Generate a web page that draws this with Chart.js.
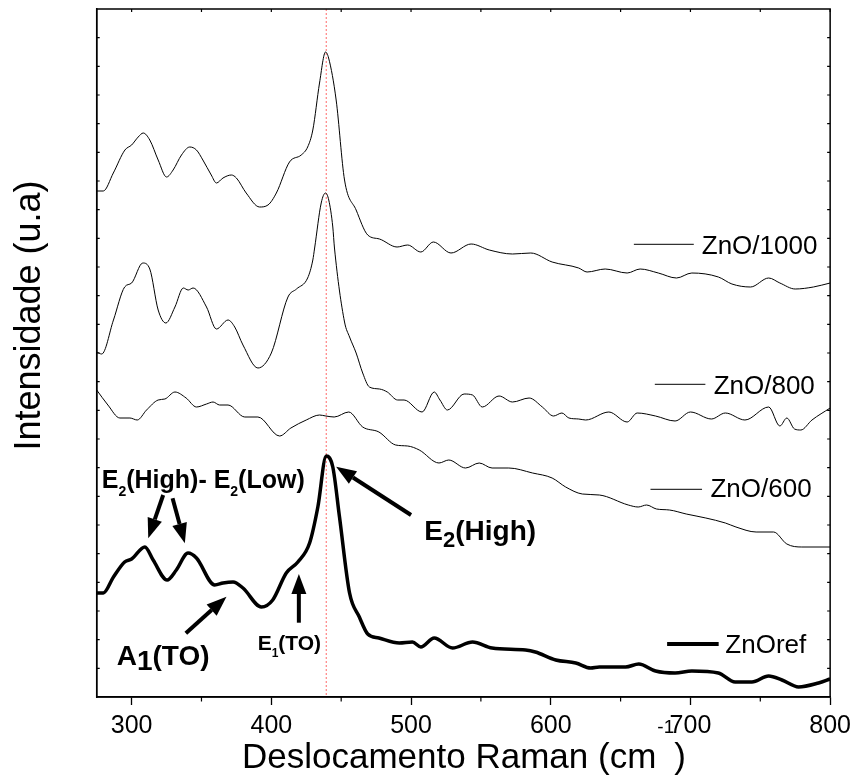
<!DOCTYPE html>
<html><head><meta charset="utf-8">
<script src="https://cdn.jsdelivr.net/npm/chart.js@4.4.1/dist/chart.umd.min.js"></script>
<style>html,body{margin:0;padding:0;background:#fff;} #wrap{width:857px;height:775px;}</style>
</head><body><div id="wrap"><canvas id="c" width="857" height="775"></canvas></div>
<script>
// ---------- data (x: Raman shift cm-1, y: intensity a.u.) ----------
const xTickLabels = [300, 400, 500, 600, 700, 800];
const seriesNames = ['ZnO/1000', 'ZnO/800', 'ZnO/600', 'ZnOref'];
const e2PeakPosition = 439.3;

const zno1000 = [[275,506],[279.7,506],[286.9,524],[295.2,547],[300,552],[304.7,560],[308.3,564],[313,557],[319,537],[325,520],[329.7,527],[335.7,542],[341.6,550],[346.4,547],[351,537],[357,522],[360.7,514],[365.4,519],[371.4,522],[375,519],[382,504],[391.6,490],[397.6,492],[403.6,504],[413,535],[421.4,542],[426,550],[429.7,567],[434.5,614],[438.8,645],[441,639],[446.4,597],[452.4,517],[460.7,487],[469,462],[477.4,458],[490,450],[497.6,452],[507,445],[516,455],[528.6,444],[543,453],[556,447],[572.6,443],[585.7,444],[601,435],[620,429],[626,425],[639,428],[654.7,424],[664,428],[677,424],[690,419],[701,424],[720,420],[729.7,413],[743,410],[756,419],[764,414],[775,408],[788,410],[800,414]];

const zno800 = [[275,345],[278.6,343],[287,377],[295,410],[300,414],[308,434],[313,428],[319,387],[324.5,374],[331,390],[337,409],[340.5,407],[344,409],[353.6,390],[360.7,368],[369,377],[373.8,370],[379.7,352],[390.4,329],[400,344],[411.9,400],[418,408],[426,419],[429.7,437],[431,449],[435.7,494],[438.8,504],[441.1,497],[444,470],[445.2,449],[452.4,375],[456,360],[460.7,344],[465.4,324],[470.2,310],[477.4,308],[483,305],[490.4,297],[495,297],[507.9,285],[516.6,305],[520.7,297],[526,287],[538,303],[544,302],[551,290],[563,301],[572.6,295],[584.5,299],[594,290],[602,281],[608,284],[613,279],[620,278],[625,277],[641.6,285],[654.7,275],[661.9,284],[675,281],[689,276],[700,285],[715,278],[725,284],[739,277],[756,290],[764,271],[769,279],[774.5,268],[779,267],[787,277],[800,289]];

const zno600 = [[275,307],[283,292],[291.6,279],[298.8,279],[304,277],[310.7,287],[319,297],[323.8,298],[331,305],[339,299],[346.4,290],[353.6,293],[358.3,295],[363,292],[369,292],[381,280],[390.4,280],[405.9,261],[414,269],[425,277],[434.5,282],[439,281],[445,280],[455.4,285],[465.4,270],[477,265],[489,252],[497.6,251],[505.9,247],[520,234],[527,237],[539,229],[548.8,234],[558,229],[570,229],[587,224],[601,219],[610.7,210],[622.6,203],[634.8,202],[655.5,192],[662.6,190],[668.6,192],[675.7,188],[685,187],[697,183],[711,179],[725,174],[732.6,170],[747,165],[759.5,165],[769,153],[779.7,150],[800,150]];

const znoRef = [[275,104],[279.7,104],[287,120],[295,135],[300,138],[309.5,150],[315.4,137],[325.4,117],[332,127],[340.4,144],[346.4,139],[359.5,112],[365.4,114],[372.6,115],[379.7,109],[392.9,90],[401,97],[410.7,124],[419,135],[427.4,154],[433.3,190],[439.3,241],[444,230],[448.8,180],[456,104],[463,80],[469,63],[477,59],[491.6,54],[501,55],[507,50],[516.6,59],[529.7,49],[544,55],[558,49],[582,47],[589,45],[603.6,37],[617.9,34],[628.6,29],[634.8,30],[653.6,30],[663,33],[675,26],[689,24],[701,26],[720,24],[732,15],[744,15],[756,21],[765.5,17],[777.4,10],[791.7,14],[800,18]];

const xTitle = ['Deslocamento Raman (cm', '-1', ')'];
const yTitle = 'Intensidade (u.a)';

// ---------- styling / placement (data coordinates) ----------
const FONT = '"Liberation Sans", Arial, Helvetica, sans-serif';
const seriesData = [zno1000, zno800, zno600, znoRef];
const seriesWidths = [1, 1, 1, 3.5];

const legendItems = [
  {x1:659.5, x2:702.4, y:452.7, tx:708.1, ty:443,  w:1},
  {x1:674.5, x2:710.7, y:312.7, tx:716.6, ty:303.5, w:1},
  {x1:671.4, x2:708.3, y:207.7, tx:714.3, ty:200,  w:1},
  {x1:683.3, x2:720.2, y:53,    tx:725,   ty:44.3, w:4}
];

const annotations = [
  {x:278.6, y:209, parts:[['E',25,0],['2',14,8],['(High)- E',25,0],['2',14,8],['(Low)',25,0]]},
  {x:289.3, y:32,  parts:[['A',28,0],['1',28,5],['(TO)',28,0]]},
  {x:390.2, y:47,  parts:[['E',21,0],['1',12,7],['(TO)',21,0]]},
  {x:509.5, y:157, parts:[['E',28,0],['2',22,7],['(High)',28,0]]}
];
const arrows = [
  [322.6,202,311.9,158.7],
  [329.3,198.7,338.1,153.7],
  [338.8,63.7,367.9,100.3],
  [419.7,74.3,419.7,123],
  [500,182,446.4,230.3]
];

function drawArrow(ctx, x1, y1, x2, y2, w, headLen, headW) {
  const ang = Math.atan2(y2 - y1, x2 - x1);
  const bx = x2 - headLen * Math.cos(ang), by = y2 - headLen * Math.sin(ang);
  ctx.lineWidth = w;
  ctx.beginPath(); ctx.moveTo(x1, y1); ctx.lineTo(bx, by); ctx.stroke();
  ctx.beginPath(); ctx.moveTo(x2, y2);
  ctx.lineTo(bx + headW * Math.sin(ang), by - headW * Math.cos(ang));
  ctx.lineTo(bx - headW * Math.sin(ang), by + headW * Math.cos(ang));
  ctx.closePath(); ctx.fill();
}

const decor = {
  id: 'decor',
  beforeDatasetsDraw(chart) {
    const {ctx, chartArea: a, scales: {x}} = chart;
    const px = x.getPixelForValue(e2PeakPosition);
    ctx.save();
    ctx.strokeStyle = '#ff6a6a'; ctx.lineWidth = 1; ctx.setLineDash([2, 2]);
    ctx.beginPath(); ctx.moveTo(px, a.top); ctx.lineTo(px, a.bottom); ctx.stroke();
    ctx.restore();
  },
  afterDraw(chart) {
    const {ctx, chartArea: a, scales: {x, y}} = chart;
    ctx.save();
    ctx.strokeStyle = '#000'; ctx.fillStyle = '#000';
    // frame
    ctx.lineWidth = 1.5;
    ctx.strokeRect(a.left, a.top, a.right - a.left, a.bottom - a.top);
    // ticks
    ctx.lineWidth = 1.2;
    ctx.beginPath();
    for (let v = 300; v <= 800; v += 50) {
      const p = x.getPixelForValue(v);
      ctx.moveTo(p, a.top); ctx.lineTo(p, a.top + 3);
      if (v % 100 !== 0) { ctx.moveTo(p, a.bottom); ctx.lineTo(p, a.bottom + 4.5); }
    }
    for (let i = 1; i < 24; i++) {
      const p = y.getPixelForValue(i * (y.max - y.min) / 24 + y.min);
      ctx.moveTo(a.left, p); ctx.lineTo(a.left + 3, p);
      ctx.moveTo(a.right, p); ctx.lineTo(a.right - 3, p);
    }
    ctx.stroke();
    // legend labels
    ctx.textAlign = 'left'; ctx.textBaseline = 'alphabetic';
    ctx.font = '26px ' + FONT;
    legendItems.forEach((it, i) => {
      ctx.lineWidth = it.w;
      const yy = y.getPixelForValue(it.y);
      ctx.beginPath(); ctx.moveTo(x.getPixelForValue(it.x1), yy); ctx.lineTo(x.getPixelForValue(it.x2), yy); ctx.stroke();
      ctx.fillText(seriesNames[i], x.getPixelForValue(it.tx), y.getPixelForValue(it.ty));
    });
    // annotations
    annotations.forEach(an => {
      let cx = x.getPixelForValue(an.x);
      const by = y.getPixelForValue(an.y);
      an.parts.forEach(([t, s, dy]) => {
        ctx.font = 'bold ' + s + 'px ' + FONT;
        ctx.fillText(t, cx, by + dy);
        cx += ctx.measureText(t).width;
      });
    });
    arrows.forEach(([x1, y1, x2, y2]) => {
      drawArrow(ctx, x.getPixelForValue(x1), y.getPixelForValue(y1), x.getPixelForValue(x2), y.getPixelForValue(y2), 4, 20, 7.5);
    });
    // x title with superscript
    const fMain = '35px ' + FONT, fSup = '19px ' + FONT;
    ctx.font = fMain; const w0 = ctx.measureText(xTitle[0]).width, w2 = ctx.measureText(xTitle[2]).width;
    ctx.font = fSup; const w1 = ctx.measureText(xTitle[1]).width;
    let sx = (a.left + a.right) / 2 - (w0 + w1 + w2) / 2;
    const base = 768;
    ctx.font = fMain; ctx.fillText(xTitle[0], sx, base); sx += w0 + 1;
    ctx.font = fSup; ctx.fillText(xTitle[1], sx, base - 35); sx += w1;
    ctx.font = fMain; ctx.fillText(xTitle[2], sx, base);
    // y title
    ctx.translate(40, 315.5); ctx.rotate(-Math.PI / 2);
    ctx.textAlign = 'center'; ctx.font = '36px ' + FONT;
    ctx.fillText(yTitle, 0, 0);
    ctx.restore();
  }
};

new Chart(document.getElementById('c'), {
  type: 'line',
  data: {
    datasets: seriesData.map((d, i) => ({
      label: seriesNames[i],
      data: d.map(([xv, yv]) => ({x: xv, y: yv})),
      borderColor: '#000', borderWidth: seriesWidths[i],
      pointRadius: 0, fill: false, cubicInterpolationMode: 'monotone'
    }))
  },
  options: {
    responsive: false, animation: false, devicePixelRatio: 1,
    layout: {padding: {top: 9, right: 25.3, left: 0, bottom: 0}},
    plugins: {legend: {display: false}, tooltip: {enabled: false}, title: {display: false}},
    scales: {
      x: {
        type: 'linear', min: 275, max: 800,
        afterBuildTicks: s => { s.ticks = xTickLabels.map(v => ({value: v})); },
        afterFit: s => { s.height = 78; },
        grid: {display: true, drawOnChartArea: false, drawTicks: true, tickLength: 8, tickColor: '#000', tickWidth: 1.3},
        border: {display: true, color: '#000', width: 1.5},
        ticks: {color: '#000', font: {family: FONT, size: 25}, padding: 6, maxRotation: 0, autoSkip: false}
      },
      y: {
        min: 0, max: 688,
        afterFit: s => { s.width = 96.7; },
        ticks: {display: false}, grid: {display: false},
        border: {display: true, color: '#000', width: 1.5}
      }
    }
  },
  plugins: [decor]
});
</script></body></html>
